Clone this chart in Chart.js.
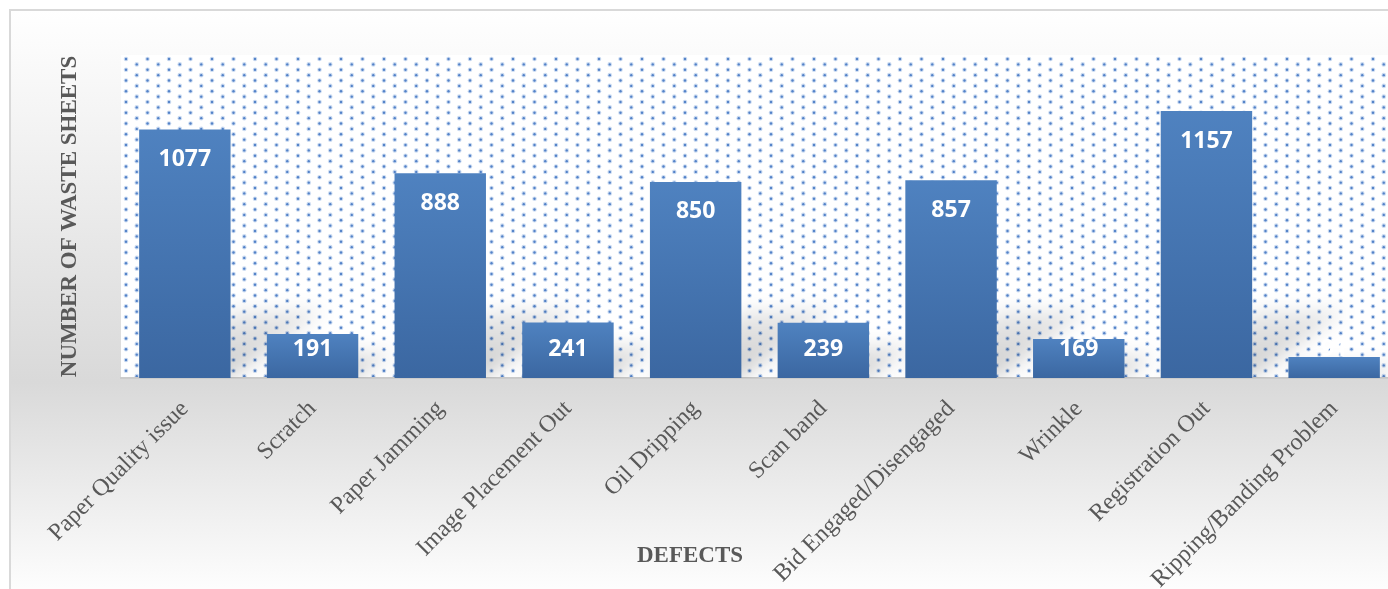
<!DOCTYPE html>
<html>
<head>
<meta charset="utf-8">
<script src="https://cdn.jsdelivr.net/npm/chart.js@4/dist/chart.umd.min.js"></script>
<style>
  html, body { margin: 0; padding: 0; overflow: hidden; background: #fff; }
  #wrap { width: 1410px; height: 600px; }
</style>
</head>
<body>
<div id="wrap"><canvas id="defectChart" width="1410" height="600"></canvas></div>
<script>
// waste sheets per defect type
const defects = [
    'Paper Quality issue', 'Scratch', 'Paper Jamming', 'Image Placement Out', 'Oil Dripping',
    'Scan band', 'Bid Engaged/Disengaged', 'Wrinkle', 'Registration Out', 'Ripping/Banding Problem'
];
const wasteSheets = [1077, 191, 888, 241, 850, 239, 857, 169, 1157, 91];
const yMax = 1400;

const TEXT_GREY = '#595959';
const SERIF = '"Liberation Serif", "Times New Roman", serif';

// chart area fill, frame and the dotted plot background
const backdrop = {
    id: 'backdrop',
    beforeDraw(chart) {
        const ctx = chart.ctx;
        const w = chart.width, h = chart.height;
        ctx.save();
        ctx.fillStyle = '#ffffff';
        ctx.fillRect(0, 0, w, h);

        const g = ctx.createLinearGradient(0, 10, 0, 600);
        g.addColorStop(0, '#ffffff');
        g.addColorStop(0.07, '#fbfbfb');
        g.addColorStop(0.63, '#d9d9d9');
        g.addColorStop(1, '#ffffff');
        ctx.fillStyle = g;
        ctx.fillRect(10, 10, w, h);

        ctx.strokeStyle = '#d9d9d9';
        ctx.lineWidth = 2;
        ctx.strokeRect(10, 10, w + 10, h + 10);

        const a = chart.chartArea;
        ctx.fillStyle = '#ffffff';
        ctx.fillRect(a.left, a.top, a.right - a.left, a.bottom - a.top);

        ctx.beginPath();
        ctx.rect(a.left, a.top, a.right - a.left, a.bottom - a.top);
        ctx.clip();
        const step = 10.75;
        let col = 0;
        for (let x = 126; x < a.right + step; x += step, col++) {
            const y0 = 59 + (col % 2 ? step / 2 : 0);
            for (let y = y0; y < a.bottom + step; y += step) {
                ctx.fillStyle = 'rgba(140, 175, 225, 0.45)';
                ctx.beginPath();
                ctx.arc(x, y, 2.3, 0, Math.PI * 2);
                ctx.fill();
                ctx.fillStyle = 'rgba(70, 120, 195, 0.9)';
                ctx.beginPath();
                ctx.arc(x, y, 1.2, 0, Math.PI * 2);
                ctx.fill();
            }
        }
        ctx.restore();
    },
    // soft perspective shadows behind the bars
    beforeDatasetsDraw(chart) {
        const ctx = chart.ctx;
        const a = chart.chartArea;
        ctx.save();
        ctx.beginPath();
        ctx.rect(a.left, a.top, a.right - a.left, a.bottom - a.top);
        ctx.clip();
        ctx.filter = 'blur(9px)';
        chart.getDatasetMeta(0).data.forEach(bar => {
            const left = bar.x - bar.width / 2, right = bar.x + bar.width / 2;
            const barH = bar.base - bar.y;
            const sh = Math.min(68, barH * 0.6);
            const dx = sh * 1.4;
            const g = ctx.createLinearGradient(0, bar.base, 0, bar.base - sh);
            g.addColorStop(0, 'rgba(0,0,0,0.2)');
            g.addColorStop(1, 'rgba(0,0,0,0.08)');
            ctx.fillStyle = g;
            ctx.beginPath();
            ctx.moveTo(left, bar.base);
            ctx.lineTo(right, bar.base);
            ctx.lineTo(right + dx, bar.base - sh);
            ctx.lineTo(left + dx, bar.base - sh);
            ctx.closePath();
            ctx.fill();
        });
        ctx.restore();
    },
    afterDatasetsDraw(chart) {
        const ctx = chart.ctx;
        ctx.save();
        // value labels inside the bars
        ctx.fillStyle = '#ffffff';
        ctx.font = 'bold 23px "Open Sans", sans-serif';
        ctx.textAlign = 'center';
        ctx.textBaseline = 'middle';
        const meta = chart.getDatasetMeta(0);
        meta.data.forEach((bar, i) => {
            const y = Math.min(bar.y + 30, bar.base - 29);
            ctx.fillText(String(wasteSheets[i]), bar.x, y);
        });
        // x axis title
        ctx.fillStyle = TEXT_GREY;
        ctx.font = 'bold 23px ' + SERIF;
        ctx.fillText('DEFECTS', 690, 556);
        ctx.restore();
    }
};

const ctx = document.getElementById('defectChart').getContext('2d');
new Chart(ctx, {
    type: 'bar',
    data: {
        labels: defects,
        datasets: [{
            label: 'Number of Waste Sheets',
            data: wasteSheets,
            backgroundColor: function(c) {
                const chart = c.chart;
                if (!chart.chartArea || c.raw === undefined) return '#4674b0';
                const ys = chart.scales.y;
                const top = ys.getPixelForValue(c.raw);
                const g = chart.ctx.createLinearGradient(0, top, 0, ys.getPixelForValue(0));
                g.addColorStop(0, '#4f82c0');
                g.addColorStop(1, '#3b67a1');
                return g;
            },
            borderWidth: 0,
            barPercentage: 1,
            categoryPercentage: 0.716
        }]
    },
    options: {
        responsive: false,
        animation: false,
        devicePixelRatio: 1,
        layout: { padding: { top: 55, right: 12, left: 0, bottom: 0 } },
        plugins: {
            legend: { display: false },
            tooltip: { enabled: false }
        },
        scales: {
            x: {
                grid: { display: false, drawTicks: false },
                border: { display: true, color: '#cccccc', width: 2 },
                ticks: {
                    color: TEXT_GREY,
                    font: { family: SERIF, size: 24 },
                    minRotation: 45,
                    maxRotation: 45,
                    autoSkip: false,
                    padding: 17
                },
                afterFit(scale) { scale.height = 222; }
            },
            y: {
                min: 0,
                max: yMax,
                grid: { display: false, drawTicks: false },
                border: { display: false },
                ticks: { display: false },
                title: {
                    display: true,
                    text: 'NUMBER OF WASTE SHEETS',
                    color: TEXT_GREY,
                    font: { family: SERIF, size: 23, weight: 'bold' },
                    padding: { top: 56, bottom: 0 }
                },
                afterFit(scale) { scale.width = 121; }
            }
        }
    },
    plugins: [backdrop]
});
</script>
</body>
</html>
